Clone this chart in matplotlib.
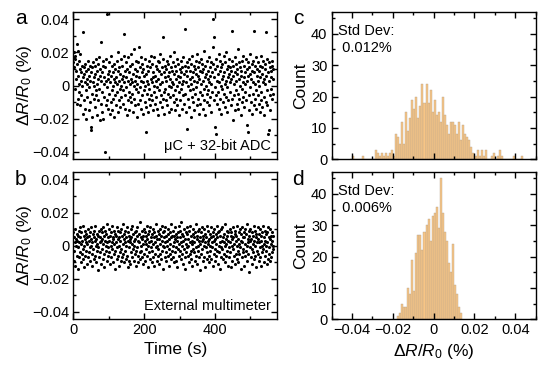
import numpy as np
import matplotlib
matplotlib.use('Agg')
import matplotlib.pyplot as plt
from matplotlib.ticker import MultipleLocator, FuncFormatter

# scatter data, dR/R0 in units of 0.001 %, one reading per second
adc_vals = [
    14, 20, 17, 11, -2, 16, 18, 9, 4, -11, 13, 25, 6, -8, 21, 15, 1, -4, 10, 19,
    -12, 3, 8, -6, 12, 0, -17, 5, 32, 11, -9, 7, 2, -14, 13, -3, 9, -20, 4, 1,
    -7, 10, 15, -1, -15, 6, 12, -10, 3, -25, -27, 8, -5, 11, -19, 2, 14, 0, -8, 5,
    12, -13, 7, -3, 16, -6, 9, -18, 1, 13, -9, 4, 17, -2, -21, 6, 10, -11, 26, 3,
    -16, 8, -4, 12, -20, 15, 1, -7, 5, -40, 11, -12, 3, 16, -9, -1, 43, 7, -14, 4,
    14, -5, 9, -17, 2, 18, -10, 6, -3, 12, -15, 0, 8, -8, 4, 13, -19, 2, 10, -6,
    5, -12, 15, 1, -4, 9, -16, 20, 3, -9, 11, -2, 7, -13, 16, 0, -7, 4, 12, -11,
    6, -3, 18, 31, 2, -14, 9, -6, 14, -1, 5, -18, 10, 3, -9, 17, -4, 8, -15, 1,
    12, -7, 4, 19, -10, 2, 13, -5, 7, -16, 0, 22, -8, 10, 3, -12, 15, -2, 6, -19,
    9, 1, -11, 14, -4, 23, 5, -9, 11, -1, 17, -14, 3, 8, -6, 13, -17, 2, 10, -3,
    6, -10, 16, 0, -13, -28, 7, 12, -5, 3, -16, 9, 1, -8, 15, -2, 11, -12, 4, 18,
    -6, 2, 13, -9, 5, -15, 8, 0, -4, 17, -11, 6, 12, -7, 3, -14, 10, -1, 15, -18,
    4, 9, -3, 14, -10, 1, 19, -6, 7, -13, 11, 2, -8, 16, 29, -4, 8, -17, 5, 12,
    -2, 10, -9, 3, 15, -12, 6, -5, 13, 0, -16, 8, 4, -7, 18, -1, 11, -14, 2, 9,
    -6, 14, 1, -10, 7, 20, -3, 12, -15, 4, 9, -8, 16, 0, -12, 6, 13, -4, 2, -18,
    10, 5, -9, 15, -2, 8, -14, 11, 1, -6, 17, 3, -11, 7, 12, 34, -5, 9, -16, 2,
    14, -26, 6, -8, 11, 0, -13, 16, 4, -3, 9, -19, 13, 1, -7, 18, 5, -10, 8, -2,
    12, -15, 3, 10, -5, 15, -1, 7, -12, 19, 2, -8, 11, 6, -17, 4, 14, -4, 9, -11,
    1, 16, -6, 8, 13, -14, 3, 10, -2, 21, -9, 5, 12, -18, 0, 7, -5, 15, -10, 4,
    9, -3, 17, 2, -12, 11, -7, 6, 14, -16, 1, 8, -4, 13, 23, 40, 29, -9, 5, -1,
    -25, 10, -6, -29, 16, 3, -11, 12, 7, -4, 19, -14, 2, 9, -8, 15, 0, -17, 11, 4,
    -2, 13, 6, -10, 18, -5, 8, 1, -13, 14, 3, -7, 20, -1, 10, -16, 5, 12, -9, 7,
    16, -4, 2, 11, -12, 9, 4, 33, -8, 15, -21, 6, 12, -6, 1, 17, -15, 8, 3, -3,
    13, -11, 7, 10, -5, 22, -14, 4, 14, -8, 0, 11, -18, 6, 9, -2, 15, -10, 2, 18,
    -7, 5, 12, -13, 8, 1, -4, 16, -9, 3, 10, -24, -28, 6, 14, -6, 11, -15, 7, -1,
    19, -10, 4, 9, -17, 13, 2, -5, 15, 33, -12, 8, 1, -8, 12, -3, 17, -14, 6, 10,
    -6, 3, 14, -11, 9, 0, -16, 12, 5, -4, 18, -9, 7, 11, -13, 2, 15, -7, 4, -18,
    10, 1, 13, 32, -10, 6, -3, 16, -12, -29, 8, 3, -27, 14, -6, 11, -15, 5, 9, -2,
    12, -8, 15, 4, -5, 10,
]

dmm_vals = [
    8, -3, 5, -9, 2, 10, -12, 4, 0, -6, 7, 3, -14, 6, -1, 9, -7, 2, 11, -4,
    5, -10, 1, 8, -5, 3, -2, 12, -8, 6, 0, -13, 4, 9, -6, 2, 7, -3, -11, 5,
    1, 10, -7, 3, -4, 6, -1, 8, -9, 0, 11, 4, -5, 2, -12, 7, -2, 5, -8, 9,
    3, -6, 12, 0, -10, 4, -3, 7, 1, -15, 6, -1, 9, -7, 2, 5, -4, 10, -11, 3,
    8, -2, 4, -8, 11, 1, -5, 6, -13, 3, 9, -3, 0, 7, -9, 13, 2, -6, 5, -1,
    10, -4, 3, -11, 6, 0, 8, -7, 2, 12, -2, 5, -10, 4, -5, 9, 1, -14, 7, -3,
    6, 2, -8, 11, -1, 4, -6, 9, 0, -12, 5, 8, -4, 3, -9, 10, -2, 6, -7, 1,
    13, -5, 4, -10, 7, 2, -3, 9, -8, 5, 0, 11, -6, 3, -13, 8, -1, 6, -9, 4,
    2, -11, 10, -4, 5, 1, -7, 12, -2, 7, -9, 3, 0, 8, -5, 4, -12, 9, -3, 6,
    -1, 11, -6, 3, -10, 7, 2, -4, 14, -8, 5, 0, -3, 9, -7, 4, 1, -11, 6, 10,
    -5, 3, 8, -9, 1, 6, -2, 12, -6, 4, -13, 7, 0, 9, -4, 2, -8, 11, -1, 5,
    3, -10, 7, -3, 10, 1, -7, 5, -12, 8, 2, -5, 13, -1, 6, -9, 4, 0, -6, 9,
    -2, 7, -11, 4, 1, 10, -5, 6, -8, 3, 12, -3, 0, 8, -14, 5, -1, 9, -7, 2,
    11, -4, 6, -9, 3, 0, 7, -6, 10, -2, 4, -12, 8, 1, -5, 13, -8, 5, -3, 6,
    0, 9, -7, 2, -10, 6, 4, -4, 11, -1, 7, -9, 3, 5, -13, 8, -2, 12, -6, 1,
    5, -3, 9, -8, 2, 14, -5, 7, 0, -11, 6, 3, -2, 10, -7, 4, -14, 8, 1, -4,
    7, -1, 11, -6, 4, 0, -10, 9, 2, -5, 12, -3, 6, -8, 3, 1, -12, 7, -2, 10,
    -4, 5, 2, -9, 8, -1, 13, -6, 4, -11, 6, 0, 9, -3, 3, -7, 10, -15, 5, 1,
    8, -5, 3, 11, -2, 6, -9, 4, 0, 10, -7, 2, -13, 7, -1, 5, -4, 12, -8, 3,
    1, 9, -6, 4, -10, 7, 0, -3, 11, 5, -8, 2, -1, 8, -12, 6, 3, -5, 10, -2,
    4, -9, 7, 1, -6, 12, -3, 5, -11, 8, 0, -4, 9, 2, -14, 6, -1, 10, -7, 3,
    11, -2, 5, -8, 2, 7, -5, 0, 13, -10, 4, 1, -6, 9, -3, 6, -12, 3, 8, -1,
    -7, 10, 2, -4, 6, -13, 8, 0, 4, -9, 11, -2, 5, -6, 1, 9, -11, 7, 3, -5,
    6, 0, -8, 12, -3, 4, -10, 8, 1, -5, 10, -1, 3, -14, 7, 2, -7, 11, -4, 5,
    -2, 8, -12, 5, 1, -6, 10, -3, 7, 0, -9, 13, 4, -5, 2, -16, 6, 9, -1, 3,
    10, -7, 4, -2, 8, -11, 1, 6, -4, 12, -8, 3, 0, 9, -6, 5, -13, 7, 2, -3,
    4, 11, -5, 2, -9, 7, -1, 10, -7, 3, 6, -12, 8, 0, -4, 12, -2, 5, -10, 1,
    9, -6, 3, 7, -3, 0, -11, 8, 2, -8, 11, -1, 5, -5, 10, -9, 4, 1, -7, 6,
    3, -4, 8, -2, 6, 0,
]

# histogram counts, bin width 0.001 %, first bin left edge given
adc_hist_start = -0.041
adc_counts = [0, 1, 0, 0, 0, 0, 1, 0, 0, 0, 0, 0, 3, 2, 1, 2, 1, 2, 1, 2,
              3, 1, 8, 7, 5, 12, 5, 15, 9, 13, 19, 16, 20, 13, 17, 24, 18, 24, 18, 22,
              15, 19, 14, 15, 12, 20, 14, 11, 8, 12, 12, 11, 8, 12, 6, 11, 8, 7, 6, 4,
              2, 1, 3, 1, 3, 1, 3, 0, 0, 1, 2, 0, 1, 3, 1, 0, 0, 0, 0, 0,
              1, 0, 0, 0, 1]
dmm_hist_start = -0.018
dmm_counts = [1, 2, 5, 4, 4, 10, 8, 19, 9, 21, 27, 27, 22, 28, 30, 32,
              25, 33, 34, 36, 29, 45, 34, 28, 25, 18, 15, 24, 11, 8, 4, 2]
bin_w = 0.001

plt.rcParams['font.family'] = ['Liberation Sans', 'DejaVu Sans']
plt.rcParams['mathtext.fontset'] = 'custom'
plt.rcParams['mathtext.rm'] = 'Liberation Sans'
plt.rcParams['mathtext.it'] = 'Liberation Sans:italic'
plt.rcParams['axes.linewidth'] = 1.0

fig = plt.figure(figsize=(5.5, 3.74), dpi=100)
ax_a = fig.add_axes([0.1333, 0.574, 0.371, 0.3947])
ax_b = fig.add_axes([0.1333, 0.1463, 0.371, 0.3937])
ax_c = fig.add_axes([0.603, 0.574, 0.371, 0.3947])
ax_d = fig.add_axes([0.603, 0.1463, 0.371, 0.3937])


def pct_fmt(v, pos):
    if abs(v) < 1e-9:
        return '0'
    return f'{v:.2f}'.replace('-', '\u2212')


ylab = r'$\Delta R/R_0$ (%)'
for ax, vals, note in [(ax_a, adc_vals, '\u03bcC + 32-bit ADC'),
                       (ax_b, dmm_vals, 'External multimeter')]:
    t = np.arange(len(vals))
    ax.scatter(t, np.array(vals) / 1000.0, s=5, color='black', linewidths=0)
    ax.set_xlim(0, 576)
    ax.set_ylim(-0.0445, 0.0445)
    ax.xaxis.set_major_locator(MultipleLocator(200))
    ax.xaxis.set_minor_locator(MultipleLocator(100))
    ax.yaxis.set_major_locator(MultipleLocator(0.02))
    ax.yaxis.set_minor_locator(MultipleLocator(0.01))
    ax.yaxis.set_major_formatter(FuncFormatter(pct_fmt))
    ax.set_ylabel(ylab, fontsize=12.5)
    ax.yaxis.set_label_coords(-0.195, 0.5)
    ax.text(0.97, 0.04, note, transform=ax.transAxes, ha='right', va='bottom',
            fontsize=10.5)

for ax, counts, start, sd in [(ax_c, adc_counts, adc_hist_start, '0.012%'),
                              (ax_d, dmm_counts, dmm_hist_start, '0.006%')]:
    left = start + bin_w * np.arange(len(counts))
    ax.bar(left, counts, width=bin_w, align='edge', color='#F8C585',
           edgecolor='#B8A48C', linewidth=0.3)
    ax.set_xlim(-0.05, 0.05)
    ax.set_ylim(0, 47)
    ax.xaxis.set_major_locator(MultipleLocator(0.02))
    ax.xaxis.set_minor_locator(MultipleLocator(0.01))
    ax.xaxis.set_major_formatter(FuncFormatter(pct_fmt))
    ax.yaxis.set_major_locator(MultipleLocator(10))
    ax.yaxis.set_minor_locator(MultipleLocator(5))
    ax.set_ylabel('Count', fontsize=12.5, labelpad=2)
    ax.text(0.03, 0.92, 'Std Dev:\n ' + sd,
            transform=ax.transAxes, ha='left', va='top', fontsize=10.5,
            linespacing=1.3)

for ax in [ax_a, ax_b, ax_c, ax_d]:
    ax.tick_params(which='both', direction='in', top=True, right=True,
                   labelsize=10.5, width=1.0)
    ax.tick_params(which='major', length=4, pad=3)
    ax.tick_params(which='minor', length=2)

ax_a.tick_params(labelbottom=False)
ax_c.tick_params(labelbottom=False)
ax_b.set_xlabel('Time (s)', fontsize=12.5, labelpad=3)
ax_d.set_xlabel(r'$\Delta R/R_0$ (%)', fontsize=12.5, labelpad=3)

fig.text(0.038, 0.95, 'a', fontsize=15, ha='center', va='center')
fig.text(0.038, 0.521, 'b', fontsize=15, ha='center', va='center')
fig.text(0.542, 0.95, 'c', fontsize=15, ha='center', va='center')
fig.text(0.542, 0.521, 'd', fontsize=15, ha='center', va='center')

fig.savefig('out.png', dpi=100)
